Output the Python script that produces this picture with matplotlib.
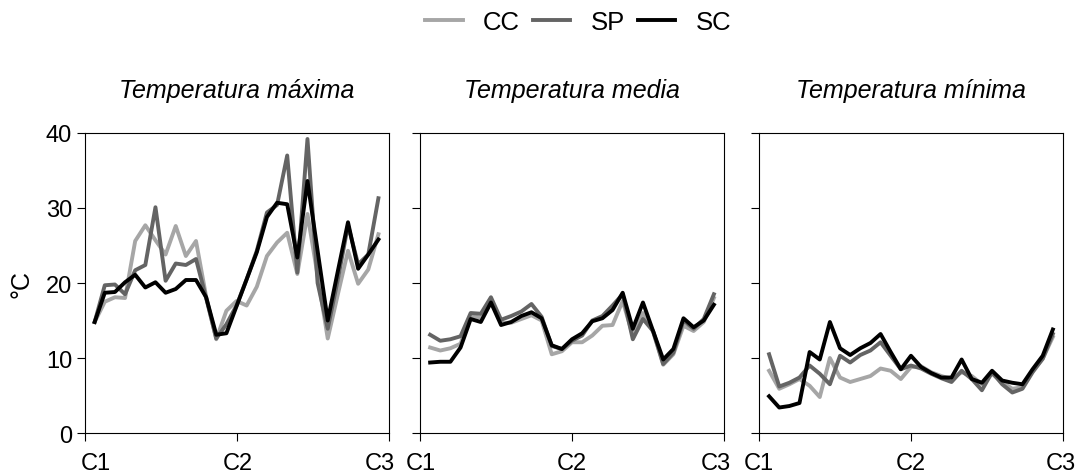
import matplotlib
matplotlib.use('Agg')
import matplotlib.pyplot as plt
from matplotlib.transforms import ScaledTranslation

plt.rcParams['font.family'] = ['Liberation Sans', 'DejaVu Sans']

# day index inside the C1-C3 period
days = list(range(1, 30))
tick_pos = [0, 15, 30]
tick_labels = ['C1', 'C2', 'C3']
series_names = ['CC', 'SP', 'SC']
series_colors = ['#a6a6a6', '#646464', '#000000']
panel_titles = ['Temperatura máxima', 'Temperatura media', 'Temperatura mínima']

# Temperatura maxima
max_cc = [14.8, 17.5, 18.1, 18.0, 25.6, 27.7, 25.7, 23.8, 27.6, 23.6, 25.6, 18.2, 12.5, 16.3, 17.6,
          17.0, 19.5, 23.6, 25.4, 26.7, 21.2, 29.2, 21.0, 12.6, 18.5, 24.3, 19.9, 21.8, 26.5]
max_sp = [14.8, 19.7, 19.8, 18.5, 21.7, 22.4, 30.1, 20.3, 22.6, 22.4, 23.2, 18.0, 12.6, 14.5, 17.0,
          20.5, 24.3, 29.4, 30.4, 37.0, 21.4, 39.2, 20.0, 13.9, 20.5, 27.7, 22.5, 23.8, 31.3]
max_sc = [14.8, 18.7, 18.8, 20.1, 21.1, 19.4, 20.1, 18.7, 19.2, 20.4, 20.4, 18.1, 13.1, 13.3, 16.9,
          20.5, 24.1, 28.8, 30.7, 30.5, 23.4, 33.6, 24.3, 15.0, 21.6, 28.1, 21.9, 23.8, 25.8]

# Temperatura media
med_cc = [11.4, 11.0, 11.3, 11.9, 15.6, 15.4, 17.6, 14.7, 14.7, 15.2, 15.7, 15.0, 10.5, 10.9, 12.1,
          12.1, 13.0, 14.3, 14.4, 17.6, 13.0, 16.0, 13.5, 9.1, 10.5, 14.3, 13.6, 14.8, 18.0]
med_sp = [13.1, 12.3, 12.5, 12.9, 16.0, 15.9, 18.1, 15.1, 15.6, 16.2, 17.2, 15.5, 11.6, 11.2, 12.3,
          13.0, 15.0, 15.6, 17.0, 18.5, 12.5, 15.2, 13.6, 9.2, 10.7, 15.0, 13.9, 15.2, 18.5]
med_sc = [9.4, 9.5, 9.5, 11.4, 15.2, 14.8, 17.4, 14.4, 14.8, 15.6, 16.1, 15.3, 11.7, 11.2, 12.5,
          13.3, 14.9, 15.3, 16.4, 18.7, 13.9, 17.4, 13.6, 9.8, 11.2, 15.3, 14.1, 15.0, 17.1]

# Temperatura minima
min_cc = [8.3, 5.9, 6.5, 7.2, 6.3, 4.8, 10.0, 7.4, 6.8, 7.2, 7.6, 8.6, 8.3, 7.2, 8.8,
          8.9, 8.1, 7.6, 7.2, 8.1, 7.6, 6.5, 7.9, 6.8, 5.9, 6.1, 8.3, 9.9, 12.8]
min_sp = [10.5, 6.2, 6.7, 7.4, 9.0, 7.9, 6.5, 10.3, 9.4, 10.4, 11.0, 12.1, 10.3, 8.5, 9.0,
          8.6, 7.9, 7.3, 6.8, 8.3, 7.2, 5.7, 8.1, 6.5, 5.4, 5.9, 8.1, 9.9, 13.2]
min_sc = [4.9, 3.4, 3.6, 4.0, 10.8, 9.8, 14.8, 11.3, 10.4, 11.3, 12.0, 13.2, 10.8, 8.5, 10.3,
          8.8, 8.0, 7.4, 7.4, 9.8, 7.2, 6.7, 8.3, 7.0, 6.7, 6.5, 8.5, 10.3, 13.8]

panels = [[max_cc, max_sp, max_sc], [med_cc, med_sp, med_sc], [min_cc, min_sp, min_sc]]

fig = plt.figure(figsize=(10.85, 4.77), dpi=100)
lefts = [0.0779, 0.3871, 0.6995]
width = 0.2802
bottom = 0.0901
height = 0.629
# small horizontal nudges (pixels) of the C1/C2/C3 labels, as in the original
label_shift = [[11, 1, -9], [1, 0, -8], [0, 0, -2]]

lines = []
for k in range(3):
    ax = fig.add_axes([lefts[k], bottom, width, height])
    for vals, name, col in zip(panels[k], series_names, series_colors):
        ln, = ax.plot(days, vals, color=col, linewidth=2.8, label=name)
        if k == 0:
            lines.append(ln)
    ax.set_xlim(0, 30)
    ax.set_ylim(0, 40)
    ax.set_xticks(tick_pos)
    ax.set_xticklabels(tick_labels)
    ax.set_yticks([0, 10, 20, 30, 40])
    if k > 0:
        ax.set_yticklabels([])
    ax.tick_params(axis='both', direction='out', length=6, width=0.8, labelsize=17)
    ax.tick_params(axis='y', pad=3)
    ax.tick_params(axis='x', pad=8)
    for lab, dx in zip(ax.get_xticklabels(), label_shift[k]):
        lab.set_transform(lab.get_transform() + ScaledTranslation(dx / 100, 0, fig.dpi_scale_trans))
    for sp in ax.spines.values():
        sp.set_linewidth(0.8)
    ax.set_title(panel_titles[k], fontsize=18, style='italic', pad=26)
    if k == 0:
        ax.set_ylabel('°C', fontsize=18, labelpad=9)

fig.legend(lines, series_names, loc='upper center', bbox_to_anchor=(0.533, 1.025), ncol=3,
           frameon=False, fontsize=18.5, handlelength=1.45, handletextpad=0.8, columnspacing=0.5)

fig.savefig('out.png', dpi=100)
